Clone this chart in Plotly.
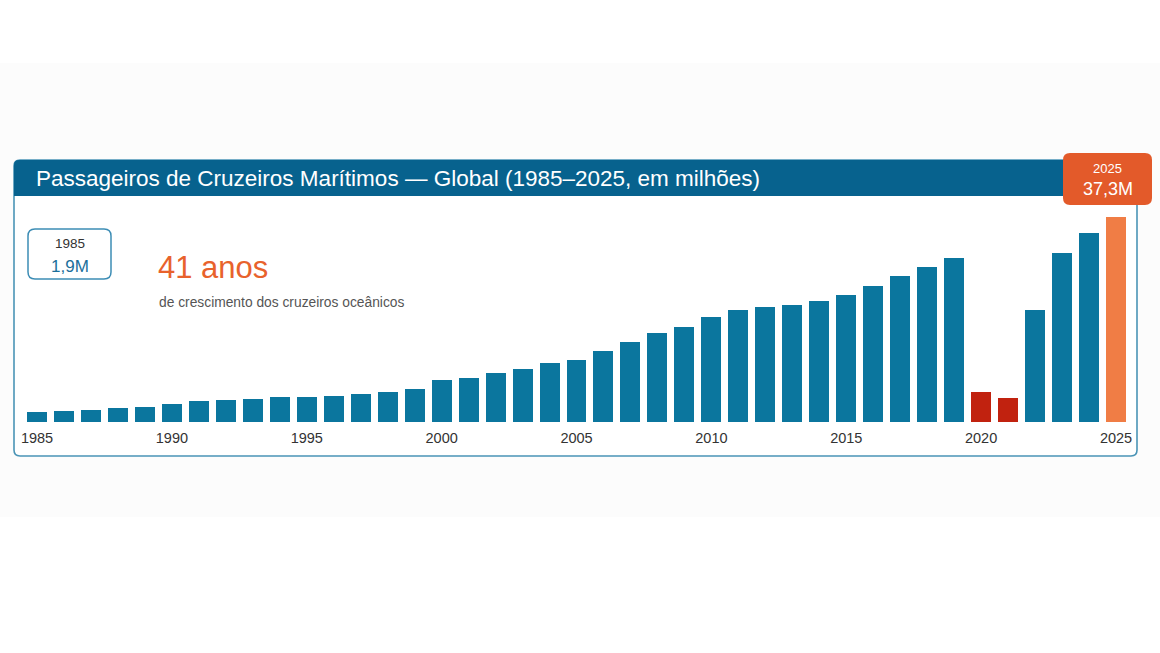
import plotly.graph_objects as go

years = list(range(1985, 2026))
passengers = [1.9, 1.95, 2.2, 2.5, 2.7, 3.3, 3.9, 4.05, 4.2, 4.55, 4.6,
              4.75, 5.15, 5.4, 6.0, 7.55, 8.0, 8.9, 9.65, 10.7, 11.3,
              12.85, 14.5, 16.1, 17.3, 19.1, 20.4, 20.9, 21.2, 22.05, 23.1,
              24.7, 26.5, 28.2, 29.9, 5.5, 4.4, 20.4, 30.8, 34.4, 37.3]
tick_years = [1985, 1990, 1995, 2000, 2005, 2010, 2015, 2020, 2025]
title_text = "Passageiros de Cruzeiros Marítimos — Global (1985–2025, em milhões)"
first_label = ("1985", "1,9M")
last_label = ("2025", "37,3M")
headline = "41 anos"
subline = "de crescimento dos cruzeiros oceânicos"

W, H = 1160, 653
BASE = 422  # pixel row of the bar baseline (bottom of plot area)
FONT = "Liberation Sans, Arial, Helvetica, sans-serif"

BLUE = "#0b769e"
RED = "#c1220f"
ORANGE_BAR = "#f07d45"
ORANGE_BOX = "#e35a2a"
TITLE_BG = "#07628e"
BORDER = "#4a94b6"

colors = []
for y in years:
    if y in (2020, 2021):
        colors.append(RED)
    elif y == 2025:
        colors.append(ORANGE_BAR)
    else:
        colors.append(BLUE)


def px(x):
    return x / W


def py(y):
    return (BASE - y) / BASE


def rounded(x0, y0, x1, y1, r, top_only=False):
    # coordinates in pixels (y down) -> paper path
    X0, X1 = px(x0), px(x1)
    Y0, Y1 = py(y0), py(y1)  # Y0 top, Y1 bottom
    rx, ry = r / W, r / BASE
    p = f"M {X0+rx},{Y0} L {X1-rx},{Y0} Q {X1},{Y0} {X1},{Y0-ry} "
    if top_only:
        p += f"L {X1},{Y1} L {X0},{Y1} "
    else:
        p += (f"L {X1},{Y1+ry} Q {X1},{Y1} {X1-rx},{Y1} "
              f"L {X0+rx},{Y1} Q {X0},{Y1} {X0},{Y1+ry} ")
    p += f"L {X0},{Y0-ry} Q {X0},{Y0} {X0+rx},{Y0} Z"
    return p


fig = go.Figure(go.Bar(
    x=years, y=passengers, marker=dict(color=colors, line=dict(width=0)),
    width=0.74, hoverinfo="x+y"))

spacing = (1116 - 37) / 40.0
xr0 = 1985 - 37 / spacing
xr1 = 2025 + (W - 1116) / spacing

shapes = [
    dict(type="rect", xref="paper", yref="paper", x0=0, x1=1, y0=py(517), y1=py(63),
         fillcolor="#fcfcfc", line=dict(width=0), layer="below"),
    dict(type="path", xref="paper", yref="paper", path=rounded(14, 160, 1137, 456, 6),
         fillcolor="white", line=dict(color=BORDER, width=1.6), layer="below"),
    dict(type="path", xref="paper", yref="paper", path=rounded(14, 160, 1137, 196, 5, top_only=True),
         fillcolor=TITLE_BG, line=dict(width=0), layer="below"),
    dict(type="path", xref="paper", yref="paper", path=rounded(1063, 153, 1152, 205, 7),
         fillcolor=ORANGE_BOX, line=dict(width=0), layer="above"),
    dict(type="path", xref="paper", yref="paper", path=rounded(28, 229, 111, 279, 7),
         fillcolor="white", line=dict(color="#3d8db5", width=1.5), layer="below"),
]

annotations = [
    dict(text=title_text, x=px(34), y=py(178), xanchor="left", yanchor="middle",
         font=dict(family=FONT, size=22.5, color="white")),
    dict(text=last_label[0], x=px(1107.5), y=py(168), xanchor="center", yanchor="middle",
         font=dict(family=FONT, size=13, color="white")),
    dict(text=last_label[1], x=px(1107.5), y=py(189), xanchor="center", yanchor="middle",
         font=dict(family=FONT, size=18, color="white")),
    dict(text=first_label[0], x=px(69.5), y=py(243), xanchor="center", yanchor="middle",
         font=dict(family=FONT, size=13.5, color="#333333")),
    dict(text=first_label[1], x=px(69.5), y=py(266), xanchor="center", yanchor="middle",
         font=dict(family=FONT, size=17, color="#1b6f9b")),
    dict(text=headline, x=px(156), y=py(267), xanchor="left", yanchor="middle",
         font=dict(family=FONT, size=31, color="#e8622c")),
    dict(text=subline, x=px(157), y=py(302), xanchor="left", yanchor="middle",
         font=dict(family=FONT, size=13.8, color="#555555")),
]
for a in annotations:
    a.update(xref="paper", yref="paper", showarrow=False)

fig.update_layout(
    width=W, height=H,
    margin=dict(l=0, r=0, t=0, b=H - BASE, pad=0),
    paper_bgcolor="white", plot_bgcolor="rgba(0,0,0,0)",
    showlegend=False, bargap=0,
    shapes=shapes, annotations=annotations,
    xaxis=dict(range=[xr0, xr1], tickmode="array", tickvals=tick_years,
               ticktext=[str(t) for t in tick_years], showgrid=False, zeroline=False,
               showline=False, ticks="", ticklabelstandoff=5,
               tickfont=dict(family=FONT, size=14.5, color="#333333"),
               fixedrange=True),
    yaxis=dict(range=[0, BASE / 5.5], visible=False, showgrid=False, fixedrange=True),
)

fig.write_html("out.html")
